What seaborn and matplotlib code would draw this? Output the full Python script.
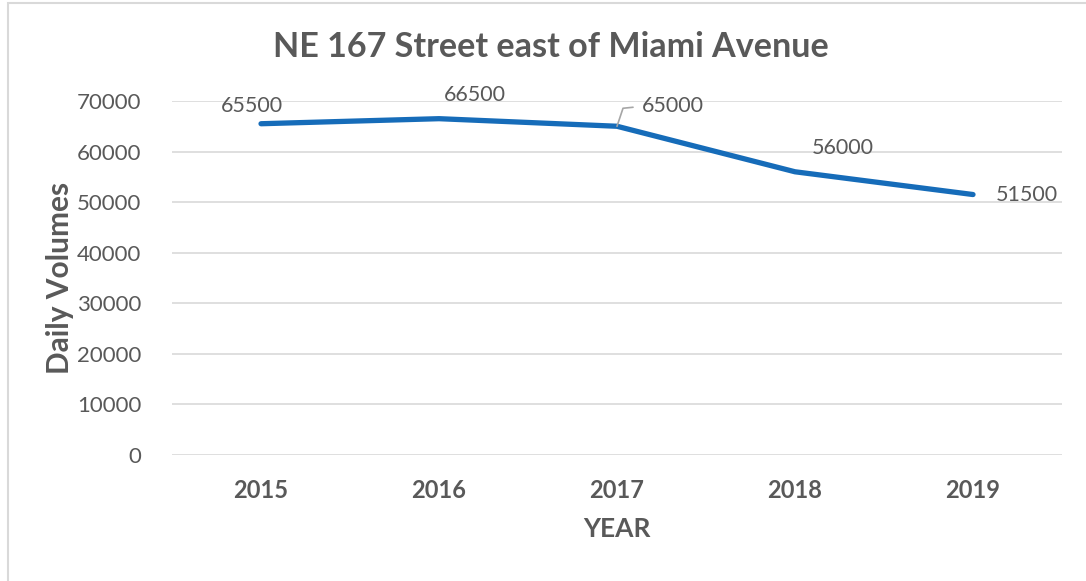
import numpy as np
import pandas as pd
import matplotlib
matplotlib.use("Agg")
import matplotlib.pyplot as plt
import matplotlib.transforms as mtransforms
from matplotlib.patches import Rectangle
import seaborn as sns

# Data
years = ["2015", "2016", "2017", "2018", "2019"]
volumes = [65500, 66500, 65000, 56000, 51500]
# label offsets (pixels) from each point, Excel-style data labels
label_dx = [-9, 36, 56, 48, 54]
label_dy = [18, 24, 20, 24, 0]

TEXT = "#595959"
BLUE = "#166cb9"
GRID = "#d9d9d9"

sns.set_theme(style="white")
plt.rcParams["font.family"] = ["Lato", "DejaVu Sans"]

df = pd.DataFrame({"year": years, "volume": volumes})

fig = plt.figure(figsize=(10.86, 5.81), dpi=100)
ax = fig.add_axes([0.1584, 0.2169, 0.8195, 0.6093])

sns.lineplot(data=df, x="year", y="volume", ax=ax, color=BLUE, linewidth=3.8,
             solid_capstyle="round", sort=False)

ax.set_xlim(-0.5, len(years) - 0.5)
ax.set_ylim(0, 70000)
ax.set_yticks(np.arange(0, 70001, 10000))
ax.yaxis.grid(True, color=GRID, linewidth=1.2)
ax.xaxis.grid(False)
for s in ax.spines.values():
    s.set_visible(False)
ax.tick_params(axis="y", length=0, pad=22, labelsize=16, labelcolor=TEXT)
ax.tick_params(axis="x", length=0, pad=17, labelsize=17, labelcolor=TEXT)
for t in ax.get_xticklabels():
    t.set_fontweight("bold")

ax.set_xlabel("YEAR", fontsize=19, fontweight="bold", color=TEXT, labelpad=11)
ax.set_ylabel("Daily Volumes", fontsize=21.5, fontweight="bold", color=TEXT, labelpad=2)

fig.text(0.507, 0.919, "NE 167 Street east of Miami Avenue", ha="center", va="center",
         fontsize=24.6, fontweight="bold", color=TEXT)

for i, v in enumerate(volumes):
    ax.annotate(f"{v}", xy=(i, v), xytext=(label_dx[i], label_dy[i]),
                textcoords="offset pixels", ha="center", va="center",
                fontsize=15.5, color=TEXT)

# leader line for the 2017 label
lead = mtransforms.IdentityTransform() + mtransforms.ScaledTranslation(2, volumes[2], ax.transData)
ax.plot([0, 6, 16], [0, 18, 19], color="#a6a6a6", linewidth=1.2, transform=lead, clip_on=False)

# outer chart border
fig.patches.append(Rectangle((8 / 1086, -0.05), 1.2, 1 - 3 / 581 + 0.05, transform=fig.transFigure,
                             fill=False, edgecolor=GRID, linewidth=1.5))

fig.savefig("out.png", dpi=100)
